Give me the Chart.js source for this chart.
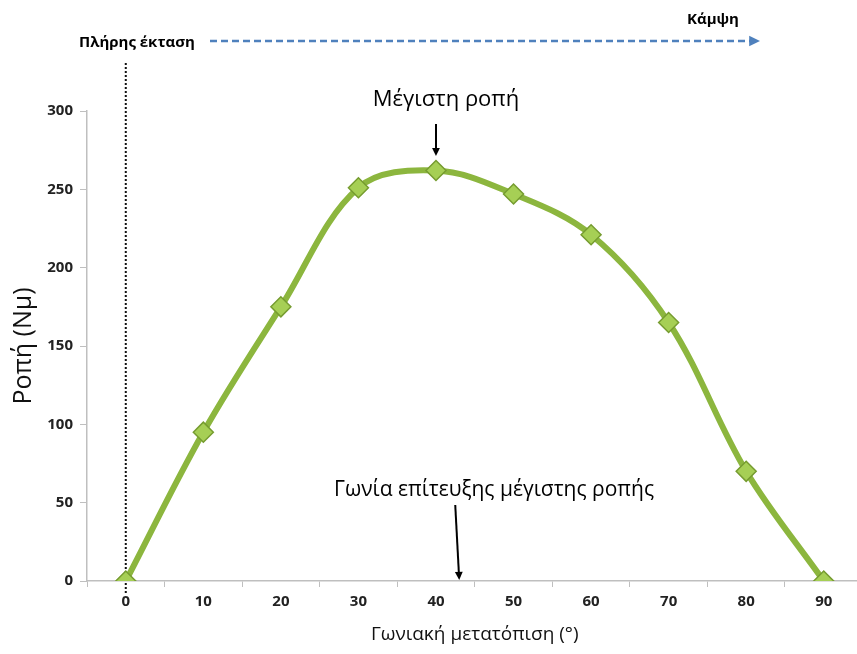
<!DOCTYPE html>
<html>
<head>
<meta charset="utf-8">
<script src="https://cdn.jsdelivr.net/npm/chart.js@4.4.1/dist/chart.umd.min.js"></script>
<style>
  html, body { margin: 0; padding: 0; background: #fff; overflow: hidden; }
  #wrap { width: 874px; height: 654px; }
</style>
</head>
<body>
<div id="wrap"><canvas id="torqueChart"></canvas></div>
<script>
// angle (degrees) and torque (Nm)
const angles = ['0', '10', '20', '30', '40', '50', '60', '70', '80', '90'];
const torque = [0, 95, 175, 251, 262, 247, 221, 165, 70, 0];
const yTicks = [0, 50, 100, 150, 200, 250, 300];

const FONT = '"Open Sans", "Noto Sans", sans-serif';

function arrow(ctx, x1, y1, x2, y2, head, color, width, dash) {
  const a = Math.atan2(y2 - y1, x2 - x1);
  ctx.save();
  ctx.strokeStyle = color;
  ctx.fillStyle = color;
  ctx.lineWidth = width;
  ctx.setLineDash(dash || []);
  ctx.beginPath();
  ctx.moveTo(x1, y1);
  ctx.lineTo(x2 - Math.cos(a) * head * 0.8, y2 - Math.sin(a) * head * 0.8);
  ctx.stroke();
  ctx.setLineDash([]);
  ctx.beginPath();
  ctx.moveTo(x2, y2);
  ctx.lineTo(x2 - head * Math.cos(a - 0.45), y2 - head * Math.sin(a - 0.45));
  ctx.lineTo(x2 - head * Math.cos(a + 0.45), y2 - head * Math.sin(a + 0.45));
  ctx.closePath();
  ctx.fill();
  ctx.restore();
}

// annotations: extension/flexion arrow, dotted line at 0°, peak markers
const notes = {
  id: 'notes',
  beforeDatasetsDraw(chart) {
    const ctx = chart.ctx;
    const x = chart.scales.x;
    const x0 = x.getPixelForValue(0);
    ctx.save();
    ctx.strokeStyle = '#111';
    ctx.lineWidth = 2;
    ctx.setLineDash([2, 2]);
    ctx.beginPath();
    ctx.moveTo(x0, 63);
    ctx.lineTo(x0, 594);
    ctx.stroke();
    ctx.restore();
  },
  afterDraw(chart) {
    const ctx = chart.ctx;
    const x = chart.scales.x;
    const y = chart.scales.y;
    ctx.save();
    ctx.fillStyle = '#000';
    ctx.textBaseline = 'middle';
    ctx.font = 'bold 15px ' + FONT;
    ctx.textAlign = 'left';
    ctx.fillText('Πλήρης έκταση', 79, 43);
    ctx.fillText('Κάμψη', 687, 20);
    arrow(ctx, 210, 41, 760, 41, 12, '#4f81bd', 2.5, [7, 4]);

    ctx.font = '22px ' + FONT;
    ctx.textAlign = 'center';
    const xPeak = x.getPixelForValue(4);
    ctx.fillText('Μέγιστη ροπή', xPeak + 10, 100);
    arrow(ctx, xPeak, 124, xPeak, 156, 9, '#000', 2);

    ctx.font = '21px ' + FONT;
    ctx.fillText('Γωνία επίτευξης μέγιστης ροπής', 494, 490);
    const xAngle = x.getPixelForValue(4.3);
    arrow(ctx, xAngle - 4, 505, xAngle, y.getPixelForValue(0) - 1, 9, '#000', 2);
    ctx.restore();
  }
};

new Chart(document.getElementById('torqueChart'), {
  type: 'line',
  data: {
    labels: angles,
    datasets: [{
      data: torque,
      borderColor: '#8cb63e',
      borderWidth: 6,
      tension: 0.35,
      pointStyle: 'rectRot',
      pointRadius: 10,
      pointBackgroundColor: '#a6cf55',
      pointBorderColor: '#769c30',
      pointBorderWidth: 1.5
    }]
  },
  options: {
    responsive: true,
    maintainAspectRatio: false,
    animation: false,
    layout: { padding: { top: 111, right: 0, bottom: 0, left: 0 } },
    plugins: { legend: { display: false }, tooltip: { enabled: false } },
    scales: {
      x: {
        offset: true,
        grid: { offset: true, drawOnChartArea: false, tickLength: 6, color: '#bfbfbf' },
        border: { color: '#bfbfbf', width: 1.5 },
        ticks: { color: '#222', font: { family: FONT, size: 15, weight: 'bold' }, padding: 6 },
        title: { display: true, text: 'Γωνιακή μετατόπιση (°)', color: '#111', font: { family: FONT, size: 19 }, padding: { top: 0, bottom: 8 } },
        afterFit(scale) { scale.height = 73; }
      },
      y: {
        min: 0,
        max: 300,
        afterBuildTicks(scale) { scale.ticks = yTicks.map(v => ({ value: v })); },
        grid: { drawOnChartArea: false, tickLength: 7, color: '#bfbfbf' },
        border: { color: '#bfbfbf', width: 1.5 },
        ticks: { color: '#222', font: { family: FONT, size: 15, weight: 'bold' }, padding: 7 },
        title: { display: true, text: 'Ροπή (Νμ)', color: '#111', font: { family: FONT, size: 25 }, padding: { top: 9, bottom: 0 } },
        afterFit(scale) { scale.width = 87; }
      }
    }
  },
  plugins: [notes]
});
</script>
</body>
</html>
